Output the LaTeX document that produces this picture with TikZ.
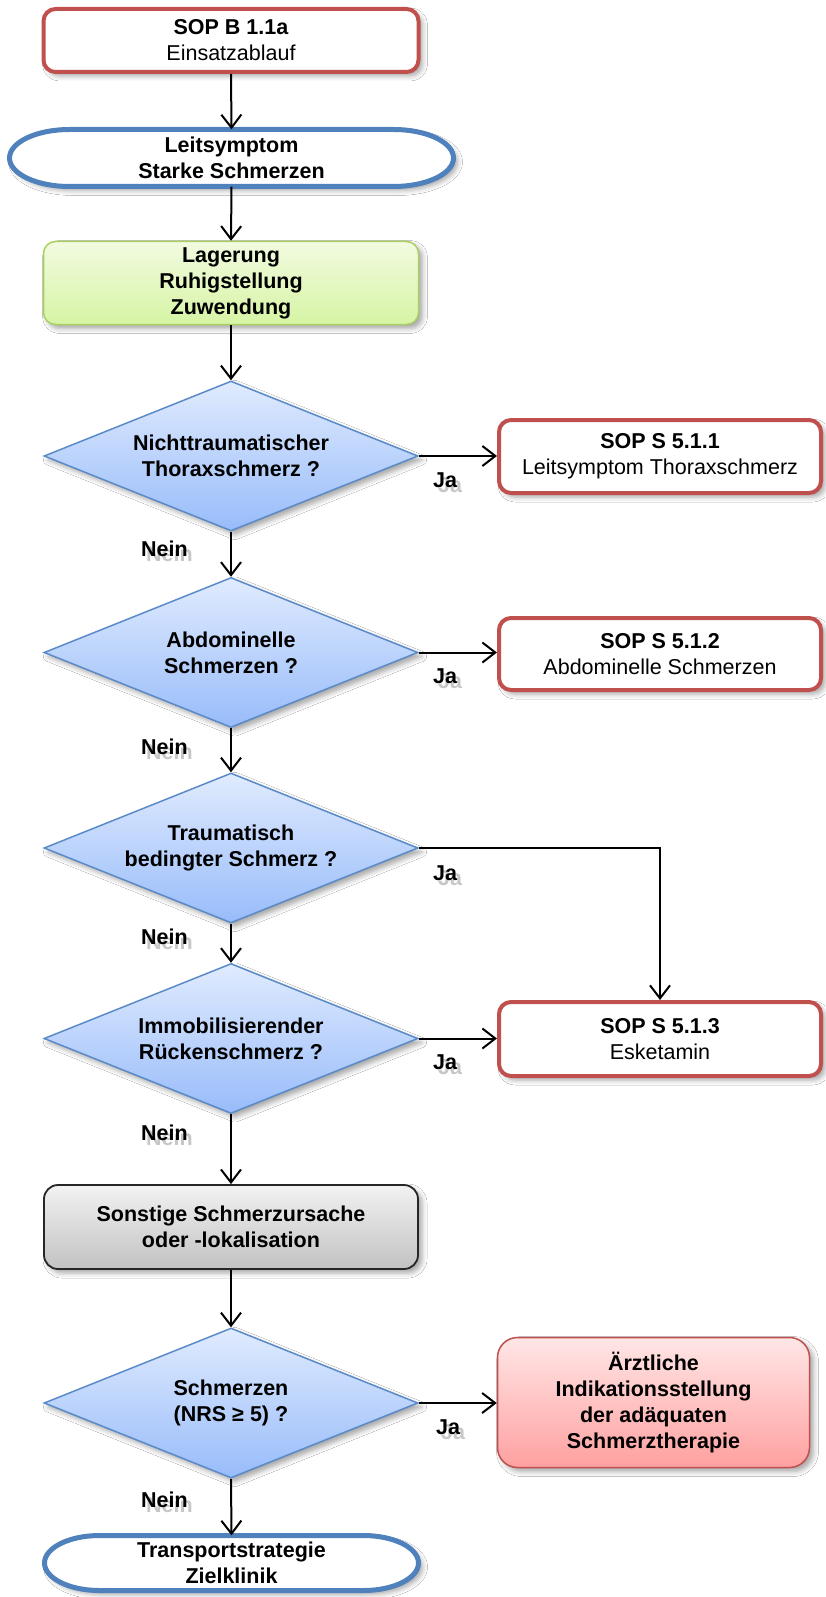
\documentclass[tikz,border=0pt]{standalone}
\usepackage{fontspec}
\setmainfont{Liberation Sans}
\usetikzlibrary{shapes.geometric,arrows.meta,shadows.blur,calc}

\definecolor{sopred}{HTML}{C0504D}
\definecolor{termblue}{HTML}{4F81BD}
\definecolor{diaTop}{HTML}{E0EBFE}
\definecolor{diaBot}{HTML}{98BCFA}
\definecolor{diaLine}{HTML}{5A8AC8}
\definecolor{grnTop}{HTML}{F2FBE0}
\definecolor{grnBot}{HTML}{D6F4A4}
\definecolor{grnLine}{HTML}{A9CF62}
\definecolor{gryTop}{HTML}{F2F2F2}
\definecolor{gryBot}{HTML}{C2C2C2}
\definecolor{redTop}{HTML}{FFE6E6}
\definecolor{redBot}{HTML}{FFA0A0}

\newcommand\fsz{\fontsize{21.5pt}{26pt}\selectfont}

\tikzset{
  base/.style={font=\fsz, align=center, inner sep=0pt, text=black},
  boldbase/.style={base, font=\fsz\bfseries},
  softshadow/.style={blur shadow={shadow xshift=4pt, shadow yshift=-4pt,
      shadow blur radius=5pt, shadow opacity=35}},
  sopbox/.style={base, draw=sopred, line width=4pt, fill=white,
      rounded corners=12pt, softshadow},
  termtext/.style={boldbase},
  termline/.style={draw=termblue, line width=5pt, fill=white, softshadow},
  actbox/.style={boldbase, draw=grnLine, line width=1.5pt, top color=grnTop,
      bottom color=grnBot, rounded corners=12pt, softshadow},
  otherbox/.style={boldbase, draw=black!85, line width=1.8pt, top color=gryTop,
      bottom color=gryBot, rounded corners=14pt, softshadow},
  docbox/.style={boldbase, draw=sopred, line width=1.5pt, top color=redTop,
      bottom color=redBot, rounded corners=20pt, softshadow},
  decision/.style={boldbase, shape=diamond, draw=diaLine, line width=1.5pt,
      top color=diaTop, bottom color=diaBot, minimum width=374pt,
      minimum height=150pt, aspect=2.5, softshadow},
  conn/.style={line width=2pt, -{Straight Barb[length=13pt,width=20pt]}},
  ans/.style={font=\fsz\bfseries, inner sep=0pt, text=black},
  ansghost/.style={ans, text=black!22},
}

% label with its faint offset echo
\newcommand\answer[4]{%
  \node[ansghost] (#1g) at (#2+5,#3+5) {#4};
  \node[ans] (#1) at (#2,#3) {#4};}

% terminal: outline with straight top and bottom and elliptic ends,
% then its text node on top
% #1 name, #2 cx, #3 cy, #4 half width, #5 half height, #6 end radius, #7 text
\newcommand\terminal[7]{%
  \draw[termline] (#2-#4+#6,#3-#5) -- (#2+#4-#6,#3-#5)
    arc[start angle=90,end angle=-90,x radius=#6pt,y radius=#5pt]
    -- (#2-#4+#6,#3+#5)
    arc[start angle=-90,end angle=-270,x radius=#6pt,y radius=#5pt] -- cycle;
  \node[termtext, minimum width=2*#4pt, minimum height=2*#5pt] (#1) at (#2,#3) {#7};}

\begin{document}
\begin{tikzpicture}[x=1pt,y=-1pt]
\fill[white] (0,0) rectangle (825,1597);
\useasboundingbox (0,0) rectangle (825,1597);

% main column
\node[sopbox, minimum width=375pt, minimum height=63pt] (b0) at (231,40.5)
  {\textbf{SOP B 1.1a}\\Einsatzablauf};
\terminal{t1}{231.5}{158}{222}{28.5}{60}{Leitsymptom\\Starke Schmerzen}
\node[actbox, minimum width=375pt, minimum height=83pt] (g1) at (231,283)
  {Lagerung\\Ruhigstellung\\Zuwendung};
\node[decision] (d1) at (231,456) {Nichttraumatischer\\Thoraxschmerz ?};
\node[decision] (d2) at (231,652.5) {Abdominelle\\Schmerzen ?};
\node[decision] (d3) at (231,848) {Traumatisch\\bedingter Schmerz ?};
\node[decision] (d4) at (231,1038.5) {Immobilisierender\\Rückenschmerz ?};
\node[otherbox, minimum width=374pt, minimum height=84pt] (o1) at (231,1227)
  {Sonstige Schmerzursache\\oder -lokalisation};
\node[decision] (d5) at (231,1403) {Schmerzen\\(NRS ≥ 5) ?};
\terminal{t2}{231.5}{1563}{187}{27.5}{55}{Transportstrategie\\Zielklinik}

% right column
\node[sopbox, minimum width=322pt, minimum height=73pt] (s1) at (660,456.5)
  {\textbf{SOP S 5.1.1}\\Leitsymptom Thoraxschmerz};
\node[sopbox, minimum width=322pt, minimum height=72pt] (s2) at (660,654)
  {\textbf{SOP S 5.1.2}\\Abdominelle Schmerzen};
\node[sopbox, minimum width=322pt, minimum height=74pt] (s3) at (660,1039)
  {\textbf{SOP S 5.1.3}\\Esketamin};
\node[docbox, minimum width=312pt, minimum height=130pt] (r1) at (653.5,1402.5)
  {Ärztliche\\Indikationsstellung\\der adäquaten\\Schmerztherapie};

% connectors
\draw[conn] (b0.south) -- (t1.north);
\draw[conn] (t1.south) -- (g1.north);
\draw[conn] (g1.south) -- (d1.north);
\draw[conn] (d1.east) -- (d1.east -| s1.west);
\draw[conn] (d1.south) -- (d2.north);
\draw[conn] (d2.east) -- (d2.east -| s2.west);
\draw[conn] (d2.south) -- (d3.north);
\draw[conn] (d3.east) -| (s3.north);
\draw[conn] (d3.south) -- (d4.north);
\draw[conn] (d4.east) -- (d4.east -| s3.west);
\draw[conn] (d4.south) -- (o1.north);
\draw[conn] (o1.south) -- (d5.north);
\draw[conn] (d5.east) -- (d5.east -| r1.west);
\draw[conn] (d5.south) -- (t2.north);

% branch labels
\answer{ja1}{445}{480}{Ja}
\answer{ja2}{445}{676}{Ja}
\answer{ja3}{445}{873}{Ja}
\answer{ja4}{445}{1062}{Ja}
\answer{ja5}{448}{1427}{Ja}
\answer{nein1}{164.5}{549}{Nein}
\answer{nein2}{164.5}{747}{Nein}
\answer{nein3}{164.5}{937}{Nein}
\answer{nein4}{164.5}{1133}{Nein}
\answer{nein5}{164.5}{1500}{Nein}
\end{tikzpicture}
\end{document}
